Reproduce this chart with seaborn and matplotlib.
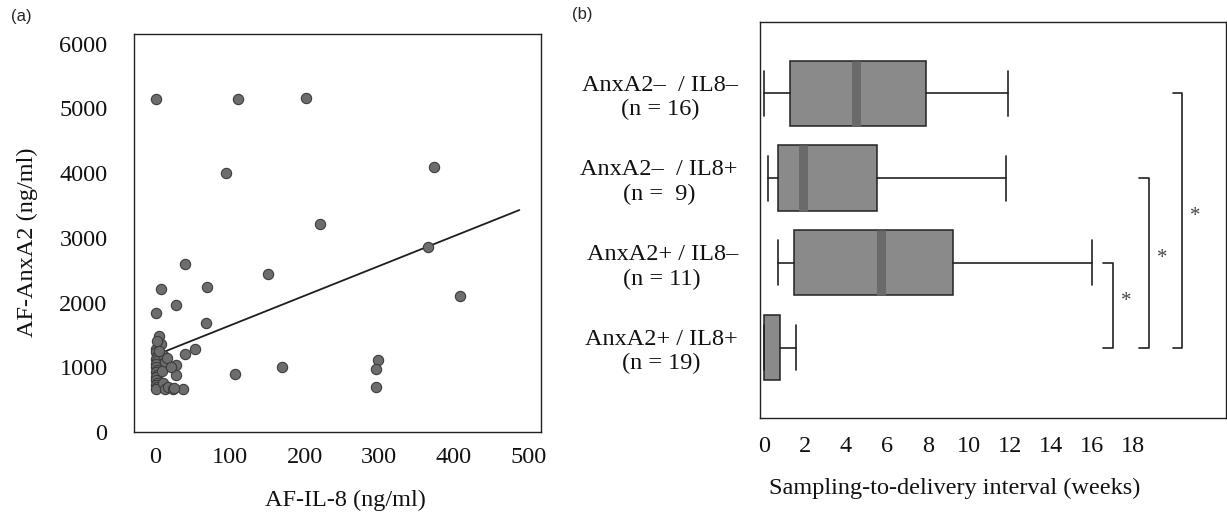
import matplotlib
matplotlib.use("Agg")
import matplotlib.pyplot as plt
import pandas as pd
import seaborn as sns

sns.set_style("white")
plt.rcParams["font.family"] = ["Liberation Serif", "DejaVu Serif"]
FS = 17.5

# ---------- Data: panel (a) ----------
af_il8 = [0, 111, 202, 94, 374, 221, 366, 40, 151, 69, 7, 409, 28, 0, 67, 5, 7, 1, 53,
          40, 299, 296, 295, 169, 107, 37,
          1, 2, 1, 2, 1, 0, 2, 1, 2, 1, 0, 2, 1, 2, 1,
          10, 12, 15, 8, 10, 12, 17, 23, 28, 28, 20, 25, 2, 4]
af_anxa2 = [5140, 5150, 5160, 4000, 4100, 3220, 2860, 2590, 2440, 2240, 2210, 2100, 1960,
            1835, 1690, 1480, 1360, 1290, 1275, 1210, 1110, 970, 700, 1010, 895, 660,
            1230, 1180, 1135, 1090, 1050, 1006, 960, 920, 880, 850, 800, 760, 724, 690, 660,
            1190, 1083, 1140, 950, 760, 658, 700, 658, 1032, 878, 1000, 680, 1400, 1250]
trend_x = [6, 488]
trend_y = [1215, 3430]

# ---------- Data: panel (b) ----------
groups = ["AnxA2\u2013  / IL8\u2013\n(n = 16)", "AnxA2\u2013  / IL8+\n(n =  9)",
          "AnxA2+ / IL8\u2013\n(n = 11)", "AnxA2+ / IL8+\n(n = 19)"]
whislo = [0.0, 0.2, 0.7, 0.0]
q1 = [1.25, 0.7, 1.45, 0.0]
med = [4.5, 1.9, 5.7, 0.0]
q3 = [7.9, 5.5, 9.2, 0.8]
whishi = [11.9, 11.8, 16.0, 1.55]
# significance brackets: (upper group, lower group)
sig_pairs = [(2, 3), (1, 3), (0, 3)]
sig_x = [17.0, 18.75, 20.4]

fig = plt.figure(figsize=(12.27, 5.17), dpi=100)

# ---------- (a) scatter ----------
ax1 = fig.add_axes([0.1092, 0.1644, 0.3317, 0.7698])
df = pd.DataFrame({"il8": af_il8, "anxa2": af_anxa2})
sns.scatterplot(data=df, x="il8", y="anxa2", ax=ax1, s=55, color="#6d6d6d",
                edgecolor="#3c3c3c", linewidth=0.8, zorder=3)
ax1.plot(trend_x, trend_y, color="#1e1e1e", lw=1.3, zorder=2)
ax1.set_xlim(-29, 517)
ax1.set_ylim(0, 6150)
ax1.set_xticks(range(0, 501, 100))
ax1.set_yticks(range(0, 6001, 1000))
ax1.tick_params(axis="both", length=0, labelsize=FS, labelcolor="#111111")
ax1.tick_params(axis="x", pad=11)
ax1.tick_params(axis="y", pad=19)
ax1.set_xlabel("")
ax1.set_ylabel("")
for sp in ax1.spines.values():
    sp.set_visible(True)
    sp.set_color("#222222")
    sp.set_linewidth(1.0)
fig.text(345 / 1227, 1 - 500 / 517, "AF-IL-8 (ng/ml)", ha="center", va="center",
         fontsize=FS, color="#111111")
fig.text(27 / 1227, 1 - 242 / 517, "AF-AnxA2 (ng/ml)", ha="center", va="center",
         rotation=90, fontsize=FS, color="#111111")
fig.text(21 / 1227, 1 - 17 / 517, "(a)", ha="center", va="center", fontsize=12,
         family=["Liberation Sans", "DejaVu Sans"])

# ---------- (b) box plot ----------
ax2 = fig.add_axes([0.6194, 0.1915, 0.3798, 0.7666])
stats = [dict(label=g, whislo=a, q1=b, med=c, q3=d, whishi=e, fliers=[])
         for g, a, b, c, d, e in zip(groups, whislo, q1, med, q3, whishi)]
bp = ax2.bxp(stats, positions=range(len(groups)), orientation="horizontal",
             widths=0.77, capwidths=0.53, patch_artist=True, showfliers=False,
             boxprops=dict(facecolor="#8a8a8a", edgecolor="#222222", linewidth=1.1),
             medianprops=dict(color="#6a6a6a", linewidth=6.5),
             whiskerprops=dict(color="#222222", linewidth=1.2),
             capprops=dict(color="#222222", linewidth=1.2))
bp["medians"][3].set_visible(False)

for (top, bottom), xb in zip(sig_pairs, sig_x):
    ax2.plot([xb - 0.45, xb, xb, xb - 0.45], [top, top, bottom, bottom],
             color="#222222", lw=1.2)
    ax2.text(xb + 0.65, (top + bottom) / 2 - 0.05, "*", ha="center", va="center",
             fontsize=15, color="#444444")

ax2.set_xlim(-0.195, 22.53)
ax2.set_ylim(3.83, -0.845)
ax2.set_xticks(range(0, 19, 2))
ax2.set_yticks(range(len(groups)))
ax2.set_yticklabels(groups, multialignment="center")
ax2.tick_params(axis="both", length=0, labelsize=FS, labelcolor="#111111")
ax2.tick_params(axis="x", pad=13)
ax2.tick_params(axis="y", pad=16)
for sp in ax2.spines.values():
    sp.set_visible(True)
    sp.set_color("#222222")
    sp.set_linewidth(1.0)
fig.text(955 / 1227, 1 - 488 / 517, "Sampling-to-delivery interval (weeks)",
         ha="center", va="center", fontsize=FS, color="#111111")
fig.text(582 / 1227, 1 - 15 / 517, "(b)", ha="center", va="center", fontsize=12,
         family=["Liberation Sans", "DejaVu Sans"])

fig.savefig("out.png", dpi=100)
